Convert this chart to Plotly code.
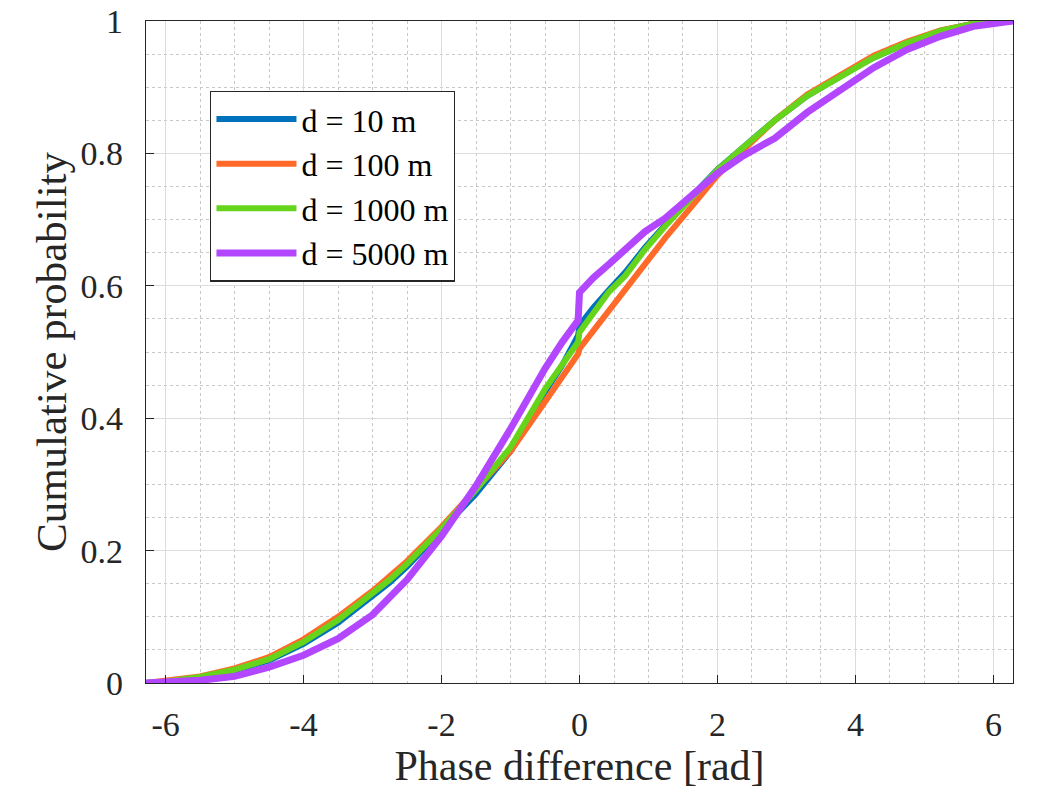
import plotly.graph_objects as go

# phase difference [rad] sample points (shared by all curves)
phase = [-6.283, -6.0, -5.5, -5.0, -4.5, -4.0, -3.5, -3.0, -2.75, -2.5, -2.0, -1.5,
         -1.0, -0.5, -0.25, -0.02, 0.0, 0.2, 0.42, 0.66, 0.95, 1.24, 1.53, 2.0,
         2.35, 2.83, 3.3, 3.79, 4.0, 4.27, 4.75, 5.23, 5.71, 6.0, 6.283]

cdf_10 = [0.0, 0.002, 0.008, 0.019, 0.034, 0.059, 0.091, 0.130, 0.152, 0.176, 0.230, 0.286,
          0.350, 0.440, 0.480, 0.525, 0.540, 0.567, 0.593, 0.620, 0.658, 0.692, 0.725, 0.776,
          0.808, 0.850, 0.887, 0.918, 0.930, 0.945, 0.967, 0.985, 0.996, 0.999, 1.0]
cdf_100 = [0.0, 0.003, 0.010, 0.022, 0.039, 0.066, 0.100, 0.139, 0.161, 0.184, 0.236, 0.293,
           0.350, 0.425, 0.463, 0.497, 0.505, 0.532, 0.562, 0.595, 0.633, 0.672, 0.708, 0.767,
           0.803, 0.850, 0.889, 0.920, 0.933, 0.948, 0.969, 0.986, 0.996, 0.999, 1.0]
cdf_1000 = [0.0, 0.002, 0.009, 0.020, 0.036, 0.062, 0.095, 0.134, 0.156, 0.180, 0.233, 0.292,
            0.356, 0.444, 0.480, 0.515, 0.530, 0.560, 0.590, 0.615, 0.655, 0.690, 0.722, 0.775,
            0.807, 0.850, 0.887, 0.917, 0.930, 0.945, 0.967, 0.985, 0.996, 0.999, 1.0]
cdf_5000 = [0.0, 0.001, 0.004, 0.010, 0.024, 0.042, 0.067, 0.103, 0.131, 0.156, 0.222, 0.298,
            0.384, 0.475, 0.515, 0.548, 0.590, 0.612, 0.632, 0.655, 0.682, 0.702, 0.727, 0.770,
            0.795, 0.823, 0.862, 0.897, 0.910, 0.930, 0.957, 0.977, 0.992, 0.996, 1.0]

names = ["d = 10 m", "d = 100 m", "d = 1000 m", "d = 5000 m"]
colors = ["#0072BD", "#FF6A2A", "#66D41A", "#B347FF"]

xtick_vals = [-6, -4, -2, 0, 2, 4, 6]
xtick_text = ["-6", "-4", "-2", "0", "2", "4", "6"]
ytick_vals = [0, 0.2, 0.4, 0.6, 0.8, 1]
ytick_text = ["0", "0.2", "0.4", "0.6", "0.8", "1"]

FONT = "Liberation Serif"

fig = go.Figure()
for name, ys, col in zip(names, [cdf_10, cdf_100, cdf_1000, cdf_5000], colors):
    fig.add_trace(go.Scatter(x=phase, y=ys, name=name, mode="lines",
                             line=dict(color=col, width=7 if name == "d = 5000 m" else 6)))

axis_common = dict(showline=True, mirror=True, linecolor="#262626", linewidth=1.3,
                   ticks="inside", ticklen=8, tickcolor="#262626", tickwidth=1.3,
                   showgrid=True, gridcolor="#DCDCDC", gridwidth=1, zeroline=False,
                   ticklabeloverflow="allow", automargin=False,
                   tickfont=dict(family=FONT, size=34, color="#262626"))

fig.update_xaxes(range=[-6.2832, 6.2832], tickvals=xtick_vals, ticktext=xtick_text,
                 minor=dict(dtick=0.5, tick0=0, showgrid=True, griddash="dot",
                            gridcolor="#C8C8C8", gridwidth=1),
                 ticklabelstandoff=11,
                 title=dict(text="Phase difference [rad]", standoff=8,
                            font=dict(family=FONT, size=42, color="#262626")),
                 **axis_common)
fig.update_yaxes(range=[0, 1.0001], tickvals=ytick_vals, ticktext=ytick_text,
                 minor=dict(dtick=0.05, tick0=0, showgrid=True, griddash="dot",
                            gridcolor="#C8C8C8", gridwidth=1),
                 ticklabelstandoff=15,
                 title=dict(text="Cumulative probability", standoff=0,
                            font=dict(family=FONT, size=43, color="#262626")),
                 **axis_common)

# the page body adds ~8px offset, so margins are trimmed to land the plot box in place
fig.update_layout(width=1061, height=796, autosize=False,
                  margin=dict(l=138, r=56, t=13, b=121),
                  plot_bgcolor="white", paper_bgcolor="white",
                  font=dict(family=FONT, color="#262626"),
                  legend=dict(x=0.074, y=0.895, xanchor="left", yanchor="top",
                              bgcolor="white", bordercolor="#262626", borderwidth=1.3,
                              font=dict(family=FONT, size=32, color="black"),
                              itemwidth=80, tracegroupgap=0))

fig.write_html("out.html")
